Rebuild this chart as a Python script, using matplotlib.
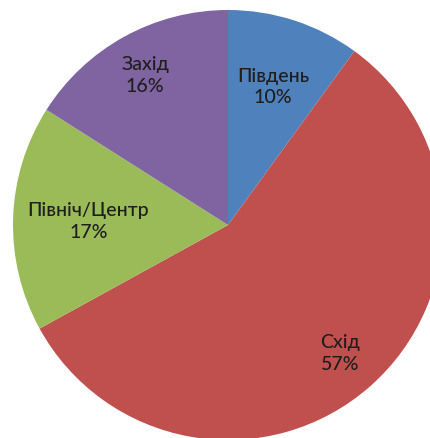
import numpy as np
import matplotlib.pyplot as plt

plt.rcParams['font.family'] = ['Lato', 'Open Sans', 'DejaVu Sans']

regions = ['Південь', 'Схід', 'Північ/Центр', 'Захід']
shares = [10, 57, 17, 16]
colors = ['#4F81BD', '#C0504D', '#9BBB59', '#8064A2']
label_r = [0.68, 0.79, 0.65, 0.80]

W, H = 431, 439
cx, cy, R = 228, 226, 215

fig = plt.figure(figsize=(W / 100, H / 100), dpi=100)
ax = fig.add_axes([0, 0, 1, 1])
wedges, _ = ax.pie(shares, colors=colors, startangle=90, counterclock=False,
                   radius=1, wedgeprops=dict(linewidth=0))

for w, name, val, r in zip(wedges, regions, shares, label_r):
    ang = np.deg2rad((w.theta1 + w.theta2) / 2)
    ax.text(r * np.cos(ang), r * np.sin(ang), f'{name}\n{val}%',
            ha='center', va='center', fontsize=14, color='#1e1e1e',
            linespacing=1.35, fontweight='medium')

ax.set_xlim(-cx / R, (W - cx) / R)
ax.set_ylim(-(H - cy) / R, cy / R)
ax.set_aspect('auto')
ax.axis('off')

fig.savefig('out.png', dpi=100)
